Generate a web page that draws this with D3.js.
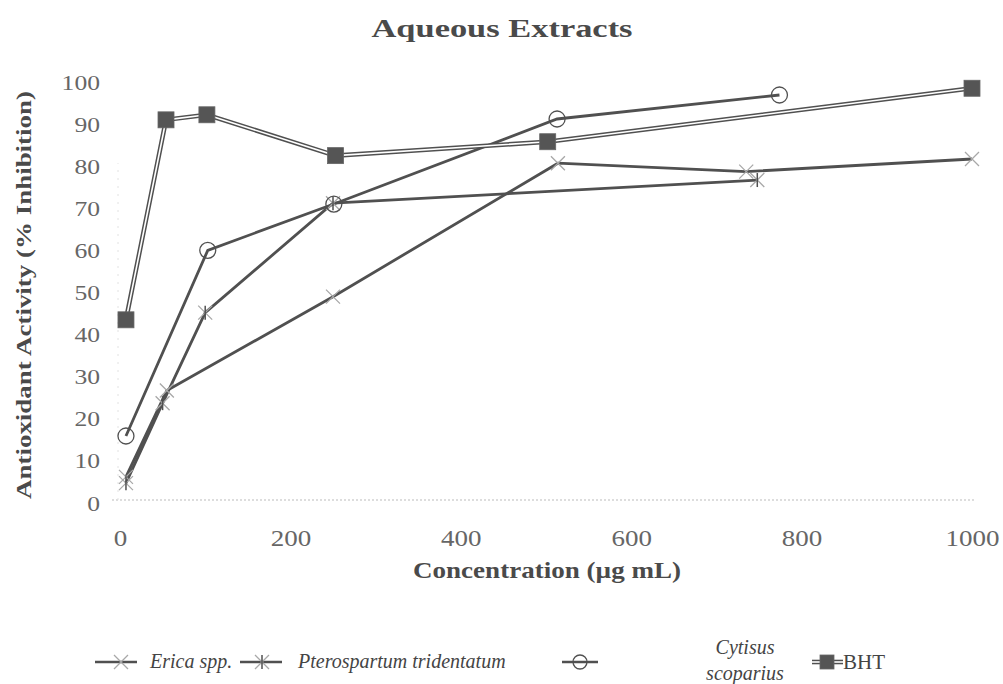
<!DOCTYPE html>
<html>
<head>
<meta charset="utf-8">
<script src="https://cdn.jsdelivr.net/npm/d3@7"></script>
<style>
  body { margin: 0; background: #fff; }
  svg { display: block; }
  text { font-family: "Liberation Serif", "Times New Roman", serif; }
</style>
</head>
<body>
<svg id="chart" width="1003" height="684"></svg>
<script>
// ---- data ----
const ericaX = [7, 55, 250, 514, 735, 1000];
const ericaY = [5.5, 26, 48.3, 80, 78, 81];
const pteroX = [7, 50, 100, 250, 748];
const pteroY = [4, 23, 44.5, 70.5, 76];
const cytisusX = [7, 103, 251, 513, 774];
const cytisusY = [15.2, 59.3, 70.3, 90.5, 96.2];
const bhtX = [7, 54, 102, 253, 502, 1000];
const bhtY = [42.8, 90.3, 91.5, 81.8, 85.1, 97.8];
const xTicks = [0, 200, 400, 600, 800, 1000];
const yTicks = [0, 10, 20, 30, 40, 50, 60, 70, 80, 90, 100];
const seriesNames = ["Erica spp.", "Pterospartum tridentatum", "Cytisus scoparius", "BHT"];

const svg = d3.select("#chart");
const x = d3.scaleLinear().domain([0, 1000]).range([120, 972]);
const y = d3.scaleLinear().domain([0, 100]).range([500, 79]);

const dark = "#505050";
const light = "#a8a8a8";
const serif = "'Liberation Serif', 'Times New Roman', serif";

// title
svg.append("text").attr("x", 502).attr("y", 37).attr("text-anchor", "middle")
  .attr("font-size", 26).attr("font-weight", "bold").attr("fill", "#4a4a4a")
  .attr("textLength", 261).attr("lengthAdjust", "spacingAndGlyphs")
  .text("Aqueous Extracts");

// axes (dotted baseline / faint left axis)
svg.append("line").attr("x1", 112).attr("x2", 975).attr("y1", y(0)).attr("y2", y(0))
  .attr("stroke", "#bbb").attr("stroke-width", 1.2).attr("stroke-dasharray", "2,2");
svg.append("line").attr("x1", 118).attr("x2", 118).attr("y1", y(0)).attr("y2", y(80))
  .attr("stroke", "#e2e2e2").attr("stroke-width", 1).attr("stroke-dasharray", "2,6");

const yAxis = d3.axisLeft(y).tickValues(yTicks).tickFormat(d3.format("d")).tickSize(0).tickPadding(0);
const gy = svg.append("g").attr("transform", "translate(100,3)").call(yAxis);
gy.select(".domain").remove();
gy.attr("font-family", null);
gy.selectAll("text").style("font-family", serif).style("font-size", "22px").attr("fill", "#666")
  .attr("x", 0).attr("textLength", d => String(d).length * 12.8).attr("lengthAdjust", "spacingAndGlyphs");

const xAxis = d3.axisBottom(x).tickValues(xTicks).tickFormat(d3.format("d")).tickSize(0).tickPadding(0);
const gx = svg.append("g").attr("transform", "translate(0,529)").call(xAxis);
gx.select(".domain").remove();
gx.attr("font-family", null);
gx.selectAll("text").style("font-family", serif).style("font-size", "24px").attr("fill", "#666")
  .attr("textLength", d => String(d).length * 13.5).attr("lengthAdjust", "spacingAndGlyphs");

// axis titles
svg.append("text").attr("transform", "translate(31,295) rotate(-90)")
  .attr("text-anchor", "middle").attr("font-size", 21).attr("font-weight", "bold")
  .attr("fill", "#4a4a4a").attr("textLength", 408).attr("lengthAdjust", "spacingAndGlyphs")
  .text("Antioxidant Activity (% Inhibition)");
svg.append("text").attr("x", 547).attr("y", 578).attr("text-anchor", "middle")
  .attr("font-size", 23).attr("font-weight", "bold").attr("fill", "#4a4a4a")
  .attr("textLength", 268).attr("lengthAdjust", "spacingAndGlyphs")
  .text("Concentration (µg mL)");

const line = d3.line().x(d => x(d[0])).y(d => y(d[1]));
const zip = (a, b) => a.map((v, i) => [v, b[i]]);

const erica = zip(ericaX, ericaY);
const ptero = zip(pteroX, pteroY);
const cyt = zip(cytisusX, cytisusY);
const bht = zip(bhtX, bhtY);

// markers
function xMark(g, cx, cy, s) {
  g.append("path").attr("d", `M${cx - s},${cy - s}L${cx + s},${cy + s}M${cx - s},${cy + s}L${cx + s},${cy - s}`)
    .attr("stroke", light).attr("stroke-width", 1.3).attr("fill", "none");
}
function starMark(g, cx, cy, s) {
  xMark(g, cx, cy, s);
  g.append("path").attr("d", `M${cx},${cy - s}L${cx},${cy + s}`)
    .attr("stroke", dark).attr("stroke-width", 1.5);
}
function circMark(g, cx, cy, r) {
  g.append("circle").attr("cx", cx).attr("cy", cy).attr("r", r)
    .attr("fill", "none").attr("stroke", dark).attr("stroke-width", 1.3);
}
function sqMark(g, cx, cy, s) {
  g.append("rect").attr("x", cx - s).attr("y", cy - s).attr("width", 2 * s).attr("height", 2 * s)
    .attr("fill", "#555").attr("stroke", "#666").attr("stroke-width", 0.8);
}
function dblLine(g, d) {
  g.append("path").attr("d", d).attr("fill", "none").attr("stroke", dark).attr("stroke-width", 4.6);
  g.append("path").attr("d", d).attr("fill", "none").attr("stroke", "#fff").attr("stroke-width", 1.6);
}

const plot = svg.append("g");
// lines
plot.append("path").attr("d", line(erica)).attr("fill", "none").attr("stroke", dark).attr("stroke-width", 2.8);
plot.append("path").attr("d", line(ptero)).attr("fill", "none").attr("stroke", dark).attr("stroke-width", 2.8);
plot.append("path").attr("d", line(cyt)).attr("fill", "none").attr("stroke", dark).attr("stroke-width", 2.8);
dblLine(plot, line(bht));

erica.forEach(d => xMark(plot, x(d[0]), y(d[1]), 7));
ptero.forEach(d => starMark(plot, x(d[0]), y(d[1]), 7));
cyt.forEach(d => circMark(plot, x(d[0]), y(d[1]), 8));
bht.forEach(d => sqMark(plot, x(d[0]), y(d[1]), 8));

// legend
const ly = 662;
const leg = svg.append("g");
leg.append("line").attr("x1", 95).attr("x2", 137).attr("y1", ly).attr("y2", ly).attr("stroke", dark).attr("stroke-width", 2.5);
xMark(leg, 121, ly, 7);
leg.append("text").attr("x", 150).attr("y", ly + 6).attr("font-size", 20).attr("font-style", "italic")
  .attr("fill", "#444").text(seriesNames[0]);

leg.append("line").attr("x1", 240).attr("x2", 282).attr("y1", ly).attr("y2", ly).attr("stroke", dark).attr("stroke-width", 2.5);
starMark(leg, 262, ly, 7);
leg.append("text").attr("x", 298).attr("y", ly + 6).attr("font-size", 20).attr("font-style", "italic")
  .attr("fill", "#444").text(seriesNames[1]);

leg.append("line").attr("x1", 562).attr("x2", 598).attr("y1", ly).attr("y2", ly).attr("stroke", dark).attr("stroke-width", 2.5);
circMark(leg, 580, ly, 7);
const cw = seriesNames[2].split(" ");
leg.append("text").attr("x", 745).attr("y", 654).attr("text-anchor", "middle").attr("font-size", 20)
  .attr("font-style", "italic").attr("fill", "#444").text(cw[0]);
leg.append("text").attr("x", 745).attr("y", 680).attr("text-anchor", "middle").attr("font-size", 20)
  .attr("font-style", "italic").attr("fill", "#444").text(cw[1]);

dblLine(leg, `M812,${ly}L843,${ly}`);
sqMark(leg, 827, ly, 7);
leg.append("text").attr("x", 843).attr("y", ly + 7).attr("font-size", 21)
  .attr("fill", "#444").text(seriesNames[3]);
</script>
</body>
</html>
